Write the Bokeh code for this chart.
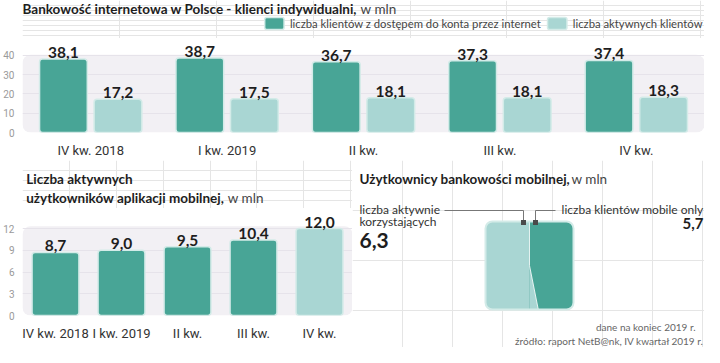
from bokeh.plotting import figure
from bokeh.layouts import column, row
from bokeh.models import (Range1d, FactorRange, ColumnDataSource, FixedTicker,
                          BoxAnnotation, LabelSet)
from bokeh.transform import dodge
from bokeh.core.properties import value
from bokeh.embed import file_html
from bokeh.resources import INLINE

# ---------------- data ----------------
quarters = ["IV kw. 2018", "I kw. 2019", "II kw.", "III kw.", "IV kw."]
online_access = [38.1, 38.7, 36.7, 37.3, 37.4]
online_active = [17.2, 17.5, 18.1, 18.1, 18.3]
series_names = ["liczba klientów z dostępem do konta przez internet",
                "liczba aktywnych klientów"]
top_ticks = [0, 10, 20, 30, 40]

app_users = [8.7, 9.0, 9.5, 10.4, 12.0]
bottom_ticks = [0, 3, 6, 9, 12]

mobile_labels = ["liczba aktywnie\nkorzystających", "liczba klientów mobile only"]
mobile_values = [6.3, 5.7]

# ---------------- style ----------------
TEAL = "#48a596"
LIGHT = "#a9d6d3"
EDGE = "#d3ebe8"
PANEL = "#f2f0f4"
GRID = "#e6e3ea"
DARK = "#1e1e1e"
FONT = "Lato"
SANS = "Roboto"


def fmt(v):
    return f"{v:.1f}".replace(".", ",")


def canvas(w, h):
    p = figure(width=w, height=h, x_range=Range1d(0, w), y_range=Range1d(h, 0),
               x_axis_location=None, y_axis_location=None,
               output_backend="svg", toolbar_location=None, min_border=0)
    p.outline_line_color = None
    p.background_fill_color = "white"
    p.border_fill_color = "white"
    return p


def txt(p, x, y, s, size, bold=False, align="left", color=DARK, font=FONT):
    p.text(x=[x], y=[y], text=[s], text_font=value(font), text_font_size=f"{size}px",
           text_font_style="bold" if bold else "normal", text_align=align,
           text_baseline="middle", text_color=color)


def style_chart(p, ticks, panel_top):
    p.outline_line_color = None
    p.background_fill_color = "white"
    p.border_fill_color = "white"
    p.add_layout(BoxAnnotation(top=panel_top, fill_color=PANEL, fill_alpha=1,
                               line_color=None, border_radius=8, level="image"))
    p.xgrid.visible = False
    p.ygrid.ticker = FixedTicker(ticks=ticks)
    p.ygrid.grid_line_color = GRID
    p.yaxis.ticker = FixedTicker(ticks=ticks)
    for ax in (p.xaxis, p.yaxis):
        ax.axis_line_color = None
        ax.major_tick_line_color = None
        ax.minor_tick_line_color = None
    p.yaxis.major_label_text_font = SANS
    p.yaxis.major_label_text_font_size = "10px"
    p.yaxis.major_label_text_color = "#9a9a9a"
    p.yaxis.major_label_standoff = 2
    p.xaxis.major_label_text_font = SANS
    p.xaxis.major_label_text_font_size = "13px"
    p.xaxis.major_label_text_color = "#333333"
    p.xaxis.major_label_standoff = 4


# ---------------- top header ----------------
h1 = canvas(704, 38)
txt(h1, 0, 8, "Bankowość internetowa w Polsce - klienci indywidualni,", 13.5, bold=True)
txt(h1, 349, 8, "w mln", 13.5, color="#444444")
leg_x = [250, 542]
for lx, name, col in zip(leg_x, series_names, [TEAL, LIGHT]):
    h1.quad(left=[lx], right=[lx + 20], top=[17], bottom=[29], fill_color=col,
            line_color=EDGE, line_width=1.5, border_radius=2)
    txt(h1, lx + 26, 23, name, 11.3, color="#444444")

# ---------------- top chart ----------------
p1 = figure(width=704, height=122, x_range=FactorRange(*quarters),
            y_range=Range1d(0, 48.8),
            output_backend="svg", toolbar_location=None,
            min_border_left=12, min_border_right=0, min_border_top=0, min_border_bottom=28)
style_chart(p1, top_ticks, 40.3)
src1 = ColumnDataSource(dict(q=quarters, a=online_access, b=online_active,
                             la=[fmt(v) for v in online_access],
                             lb=[fmt(v) for v in online_active]))
for field, lab, off, col in [("a", "la", -0.2, TEAL), ("b", "lb", 0.2, LIGHT)]:
    p1.vbar(x=dodge("q", off, range=p1.x_range), top=field, width=0.35, source=src1,
            fill_color=col, line_color=EDGE, line_width=1.5, border_radius=3)
    p1.add_layout(LabelSet(x=dodge("q", off, range=p1.x_range), y=field, text=lab,
                           source=src1, text_align="center", text_baseline="bottom",
                           y_offset=1, text_font=value(FONT), text_font_size="15.5px",
                           text_font_style="bold", text_color=DARK))

# ---------------- bottom-left header ----------------
h2 = canvas(352, 48)
txt(h2, 4, 18, "Liczba aktywnych", 13.5, bold=True)
txt(h2, 4, 37, "użytkowników aplikacji mobilnej,", 13.5, bold=True)
txt(h2, 219, 37, "w mln", 13.5, color="#444444")

# ---------------- bottom-left chart ----------------
p2 = figure(width=352, height=139, x_range=FactorRange(*quarters),
            y_range=Range1d(0, 14.76),
            output_backend="svg", toolbar_location=None,
            min_border_left=22, min_border_right=0, min_border_top=0, min_border_bottom=32)
style_chart(p2, bottom_ticks, 12.3)
bar_cols = [TEAL] * (len(app_users) - 1) + [LIGHT]
src2 = ColumnDataSource(dict(q=quarters, v=app_users, lab=[fmt(v) for v in app_users],
                             c=bar_cols))
p2.vbar(x="q", top="v", width=0.71, source=src2, fill_color="c", line_color=EDGE,
        line_width=1.5, border_radius=3)
p2.add_layout(LabelSet(x="q", y="v", text="lab", source=src2, text_align="center",
                       text_baseline="bottom", y_offset=1, text_font=value(FONT),
                       text_font_size="15.5px", text_font_style="bold", text_color=DARK))

# ---------------- bottom-right: mobile users ----------------
p3 = canvas(352, 187)
txt(p3, 7, 18, "Użytkownicy bankowości mobilnej,", 13.5, bold=True)
txt(p3, 219, 18, "w mln", 13.5, color="#444444")
left_lines = mobile_labels[0].split("\n")
txt(p3, 7, 49, left_lines[0], 12, color="#333333")
txt(p3, 7, 61, left_lines[1], 12, color="#333333")
txt(p3, 7, 80, fmt(mobile_values[0]), 21, bold=True)
txt(p3, 351, 49, mobile_labels[1], 12, align="right", color="#333333")
txt(p3, 351, 63, fmt(mobile_values[1]), 15, bold=True, align="right")

# square split by share of the two groups
sq_left, sq_top, sq_size = 133, 61, 88
total = sum(mobile_values)
share = mobile_values[0] / total
a_frac = 0.5                              # split at top half
b_frac = (share - 0.75 * a_frac) / 0.25   # slanted lower half keeps the area = share
xa = sq_left + a_frac * sq_size
xb = sq_left + b_frac * sq_size
ymid = sq_top + sq_size / 2
ybot = sq_top + sq_size
p3.quad(left=[sq_left], right=[sq_left + sq_size], top=[sq_top], bottom=[ybot],
        fill_color=TEAL, line_color=None, border_radius=7)
p3.quad(left=[sq_left], right=[xa], top=[sq_top], bottom=[ybot],
        fill_color=LIGHT, line_color=None, border_radius=(7, 0, 0, 7))
p3.patch(x=[xa, xb, xa], y=[ymid, ybot, ybot], fill_color=LIGHT, line_color=None)
p3.line(x=[xa, xa, xb], y=[sq_top, ymid, ybot], line_color="white", line_width=1,
        line_alpha=0.8)
p3.quad(left=[sq_left], right=[sq_left + sq_size], top=[sq_top], bottom=[ybot],
        fill_color=None, line_color=EDGE, line_width=2, border_radius=7)
# connectors
p3.line(x=[92, xa - 6, xa - 6], y=[50, 50, sq_top], line_color="#777777", line_width=1)
p3.line(x=[xa + 26, xa + 6, xa + 6], y=[50, 50, sq_top], line_color="#777777", line_width=1)
p3.rect(x=[xa - 6, xa + 6], y=[sq_top + 1, sq_top + 1], width=5, height=5,
        fill_color="#4a4a4a", line_color=None)

# footer
txt(p3, 343, 166, "dane na koniec 2019 r.", 10, align="right", color="#666666")
txt(p3, 351, 180, "źródło: raport NetB@nk, IV kwartał 2019 r.", 10, align="right",
    color="#666666")

layout = column(h1, p1, row(column(h2, p2), p3))
open("out.html", "w").write(file_html(layout, INLINE))
